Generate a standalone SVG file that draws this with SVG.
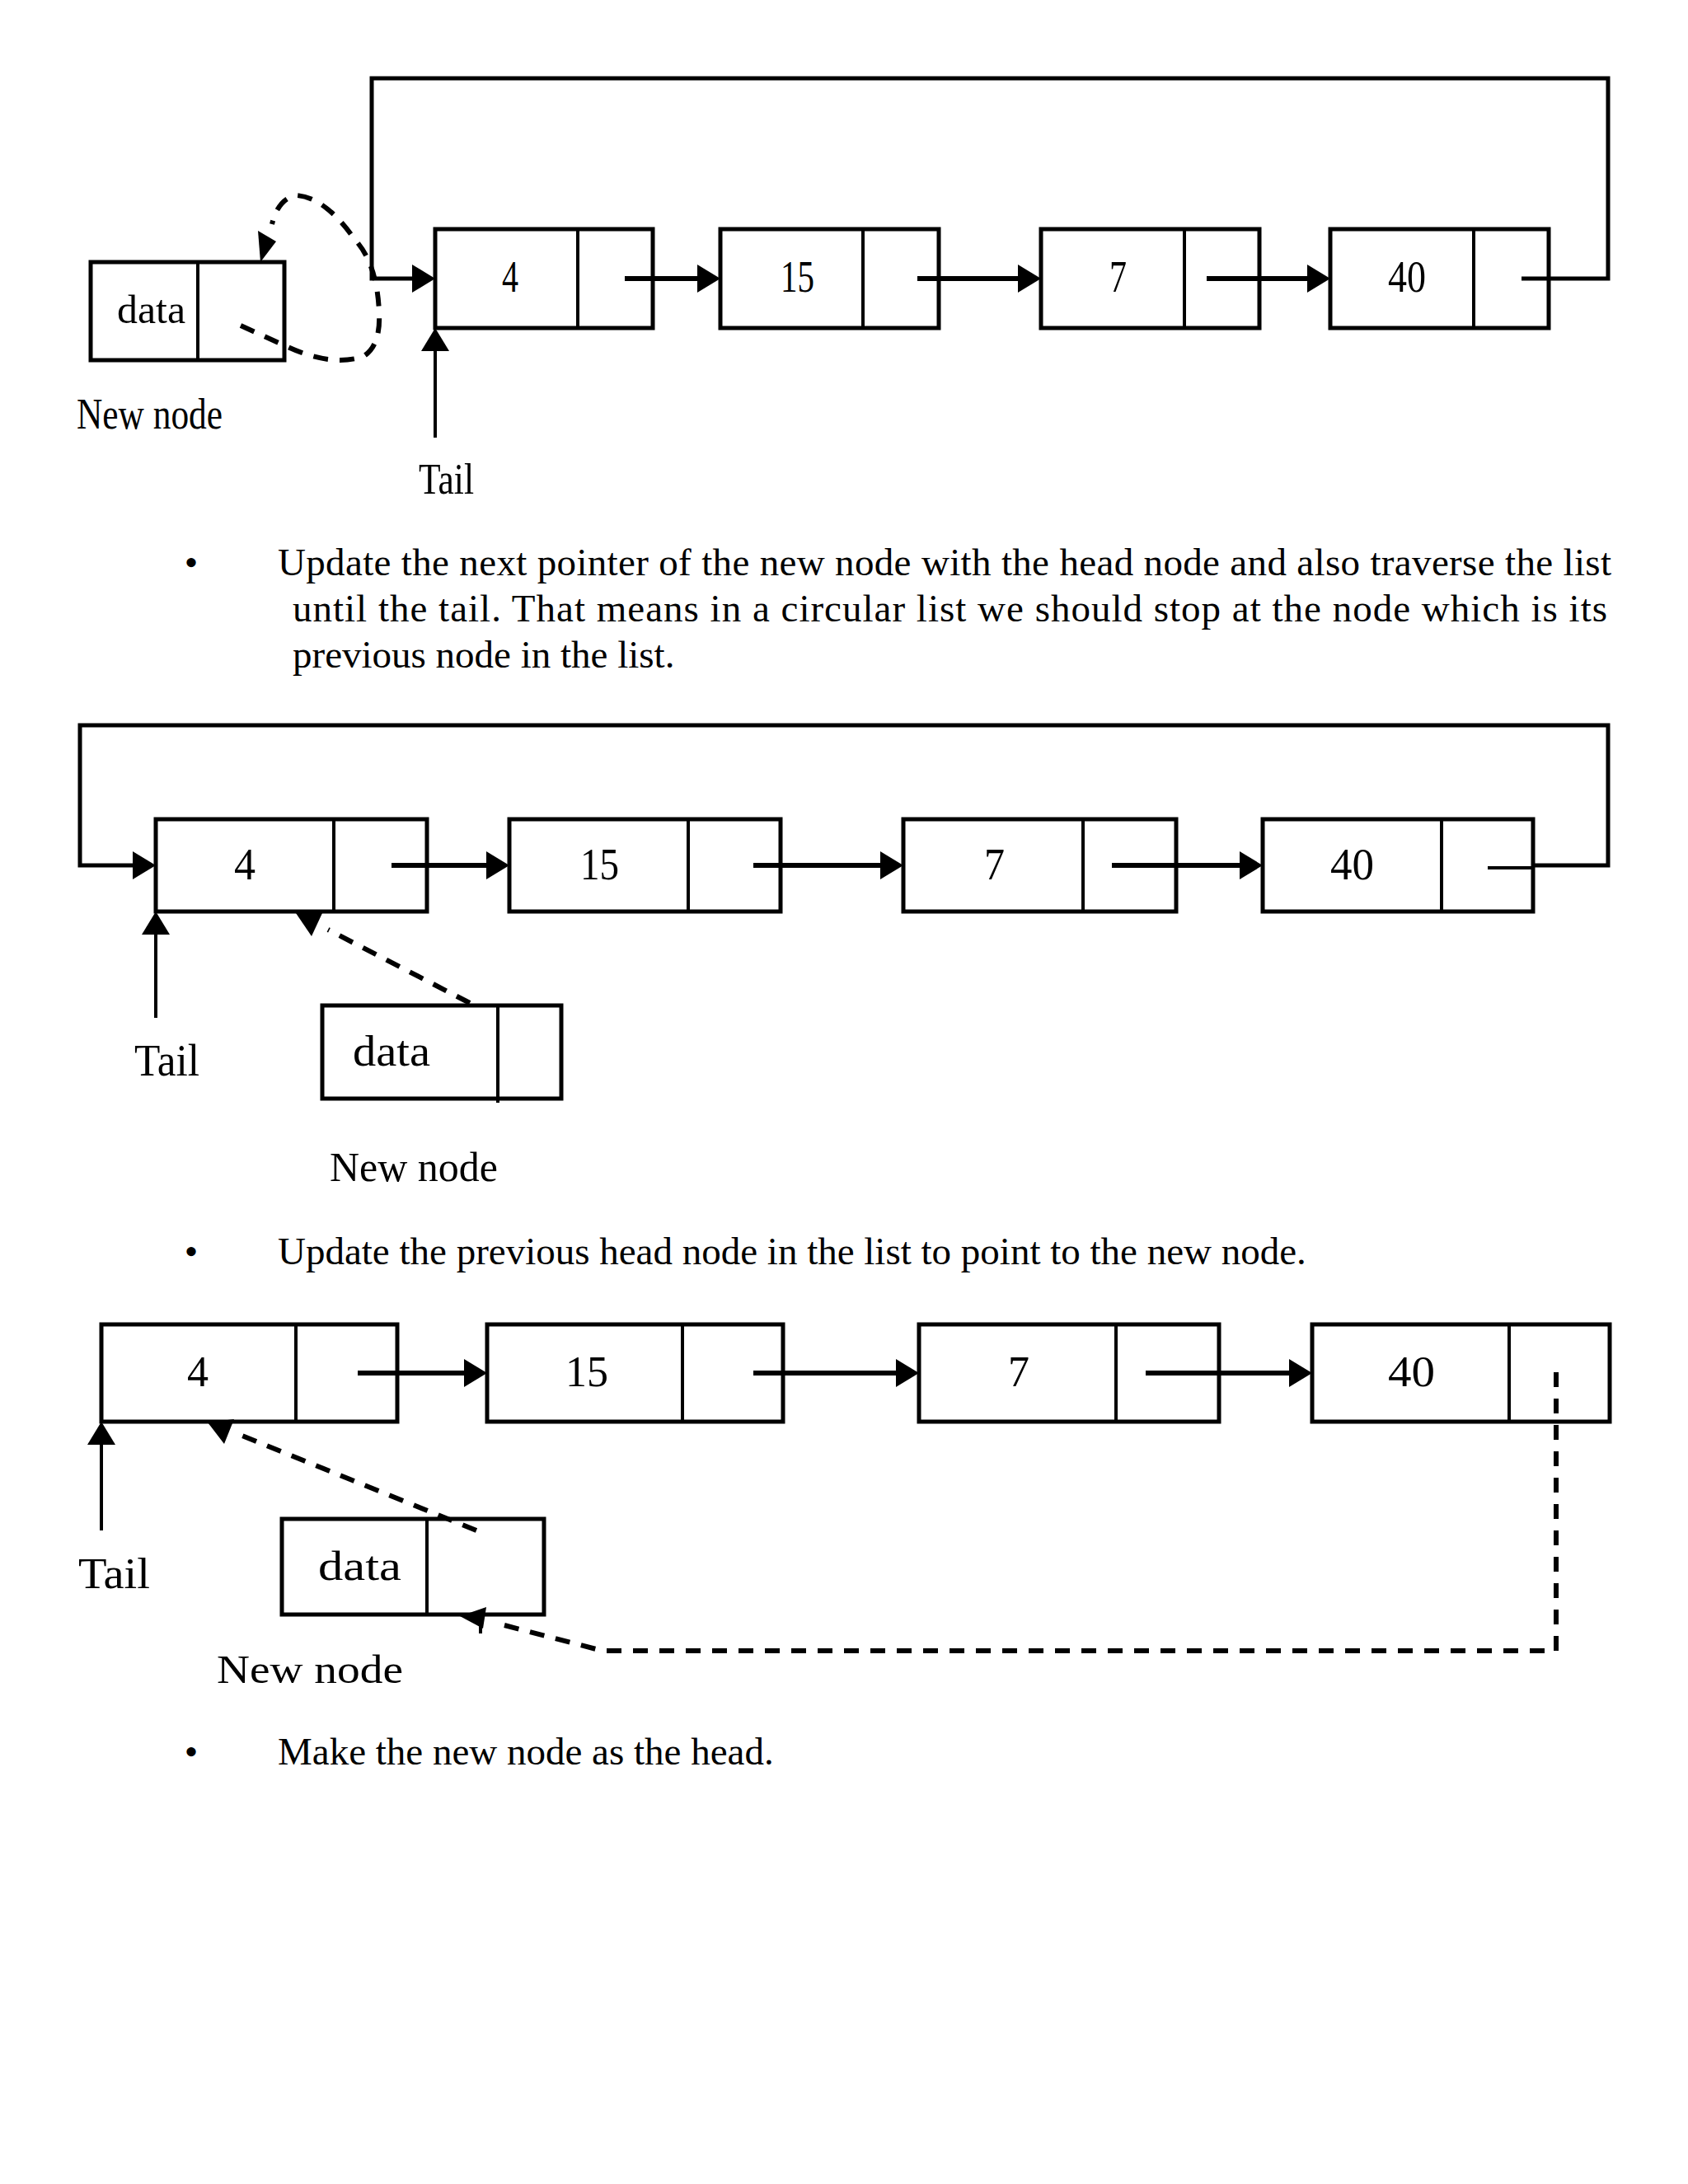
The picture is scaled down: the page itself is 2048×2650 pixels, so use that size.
<svg xmlns="http://www.w3.org/2000/svg" width="2048" height="2650" viewBox="0 0 2048 2650">
<style>
.box{fill:none;stroke:#000;stroke-width:5}
.dv{stroke:#000;stroke-width:4}
.lbl{font-family:"Liberation Serif","Times New Roman",serif;fill:#000}
.ptr{stroke:#000;stroke-width:6;fill:none}
.loop{stroke:#000;stroke-width:5;fill:none}
.dash{stroke:#000;stroke-width:6;fill:none;stroke-dasharray:18 14}
.thin{stroke:#000;stroke-width:4;fill:none}
.head{fill:#000;stroke:none}
.body{font-family:"Liberation Serif","Times New Roman",serif;font-size:47px;fill:#000}
</style>
<defs>
<marker id="ah" markerUnits="userSpaceOnUse" markerWidth="30" markerHeight="34" refX="0" refY="17" orient="auto" overflow="visible">
<path d="M0,0 L28,17 L0,34 z" fill="#000"/>
</marker>
</defs>
<rect width="2048" height="2650" fill="#fff"/>

<!-- Diagram 1 -->
<g id="d1-n4"><rect class="box" x="528" y="278" width="264" height="120"/><line class="dv" x1="701" y1="278" x2="701" y2="398"/><text class="lbl" x="609" y="354" font-size="55" textLength="20" lengthAdjust="spacingAndGlyphs">4</text></g>
<g id="d1-n15"><rect class="box" x="874" y="278" width="265" height="120"/><line class="dv" x1="1047" y1="278" x2="1047" y2="398"/><text class="lbl" x="947" y="354" font-size="55" textLength="41" lengthAdjust="spacingAndGlyphs">15</text></g>
<g id="d1-n7"><rect class="box" x="1263" y="278" width="265" height="120"/><line class="dv" x1="1437" y1="278" x2="1437" y2="398"/><text class="lbl" x="1346" y="354" font-size="55" textLength="21" lengthAdjust="spacingAndGlyphs">7</text></g>
<g id="d1-n40"><rect class="box" x="1614" y="278" width="265" height="120"/><line class="dv" x1="1788" y1="278" x2="1788" y2="398"/><text class="lbl" x="1684" y="354" font-size="55" textLength="46" lengthAdjust="spacingAndGlyphs">40</text></g>
<g id="d1-new"><rect class="box" x="110" y="318" width="235" height="119"/><line class="dv" x1="240" y1="318" x2="240" y2="437"/><text class="lbl" x="142" y="392" font-size="48" textLength="83" lengthAdjust="spacingAndGlyphs">data</text></g>
<g id="d1-labels"><text class="lbl" x="93" y="520" font-size="53" textLength="177" lengthAdjust="spacingAndGlyphs">New node</text><text class="lbl" x="508" y="599" font-size="53" textLength="67" lengthAdjust="spacingAndGlyphs">Tail</text></g>
<g id="d1-connectors">
<polyline class="loop" points="1846,338 1951,338 1951,95 451,95 451,338 500,338" marker-end="url(#ah)"/>
<line class="ptr" x1="758" y1="338" x2="846" y2="338" marker-end="url(#ah)"/>
<line class="ptr" x1="1113" y1="338" x2="1235" y2="338" marker-end="url(#ah)"/>
<line class="ptr" x1="1464" y1="338" x2="1586" y2="338" marker-end="url(#ah)"/>
<line class="thin" x1="528" y1="531" x2="528" y2="426" marker-end="url(#ah)"/>
<path class="dash" stroke-width="5" stroke-dasharray="15 13" d="M292,395 L347,420 Q400,445 440,433 Q462,420 460,380 Q458,320 430,290 Q395,240 360,237 Q338,240 330,272"/>
<polygon class="head" points="313,280 335,293 316,318"/>
</g>

<!-- Text block 1 -->
<g id="text1">
<text class="body" x="232" y="698" text-anchor="middle">•</text>
<text class="body" x="337" y="698" textLength="1618" lengthAdjust="spacing">Update the next pointer of the new node with the head node and also traverse the list</text>
<text class="body" x="355" y="754" textLength="1595" lengthAdjust="spacing">until the tail. That means in a circular list we should stop at the node which is its</text>
<text class="body" x="355" y="810">previous node in the list.</text>
</g>

<!-- Diagram 2 -->
<g id="d2-n4"><rect class="box" x="189" y="994" width="329" height="112"/><line class="dv" x1="405" y1="994" x2="405" y2="1106"/><text class="lbl" x="284" y="1067" font-size="55" textLength="26" lengthAdjust="spacingAndGlyphs">4</text></g>
<g id="d2-n15"><rect class="box" x="618" y="994" width="329" height="112"/><line class="dv" x1="835" y1="994" x2="835" y2="1106"/><text class="lbl" x="704" y="1067" font-size="55" textLength="47" lengthAdjust="spacingAndGlyphs">15</text></g>
<g id="d2-n7"><rect class="box" x="1096" y="994" width="331" height="112"/><line class="dv" x1="1314" y1="994" x2="1314" y2="1106"/><text class="lbl" x="1194" y="1067" font-size="55" textLength="25" lengthAdjust="spacingAndGlyphs">7</text></g>
<g id="d2-n40"><rect class="box" x="1532" y="994" width="328" height="112"/><line class="dv" x1="1749" y1="994" x2="1749" y2="1106"/><text class="lbl" x="1614" y="1067" font-size="55" textLength="53" lengthAdjust="spacingAndGlyphs">40</text></g>
<g id="d2-new"><rect class="box" x="391" y="1220" width="290" height="113"/><line class="dv" x1="604" y1="1220" x2="604" y2="1338"/><text class="lbl" x="428" y="1293" font-size="52" textLength="94" lengthAdjust="spacingAndGlyphs">data</text></g>
<g id="d2-labels"><text class="lbl" x="163" y="1305" font-size="54" textLength="79" lengthAdjust="spacingAndGlyphs">Tail</text><text class="lbl" x="400" y="1433" font-size="50" textLength="204" lengthAdjust="spacingAndGlyphs">New node</text></g>
<g id="d2-connectors">
<polyline class="loop" points="1858,1050 1951,1050 1951,880 97,880 97,1050 161,1050" marker-end="url(#ah)"/>
<line class="thin" x1="1805" y1="1053" x2="1862" y2="1053"/>
<line class="ptr" x1="475" y1="1050" x2="590" y2="1050" marker-end="url(#ah)"/>
<line class="ptr" x1="914" y1="1050" x2="1068" y2="1050" marker-end="url(#ah)"/>
<line class="ptr" x1="1349" y1="1050" x2="1504" y2="1050" marker-end="url(#ah)"/>
<line class="thin" x1="189" y1="1235" x2="189" y2="1134" marker-end="url(#ah)"/>
<line class="dash" x1="570" y1="1217" x2="398" y2="1128"/>
<polygon class="head" points="359,1108 391,1108 378,1136"/>
</g>

<!-- Text block 2 -->
<g id="text2">
<text class="body" x="232" y="1534" text-anchor="middle">•</text>
<text class="body" x="337" y="1534">Update the previous head node in the list to point to the new node.</text>
</g>

<!-- Diagram 3 -->
<g id="d3-n4"><rect class="box" x="123" y="1607" width="359" height="118"/><line class="dv" x1="359" y1="1607" x2="359" y2="1725"/><text class="lbl" x="227" y="1682" font-size="52" textLength="26" lengthAdjust="spacingAndGlyphs">4</text></g>
<g id="d3-n15"><rect class="box" x="591" y="1607" width="359" height="118"/><line class="dv" x1="828" y1="1607" x2="828" y2="1725"/><text class="lbl" x="686" y="1682" font-size="52" textLength="52" lengthAdjust="spacingAndGlyphs">15</text></g>
<g id="d3-n7"><rect class="box" x="1115" y="1607" width="364" height="118"/><line class="dv" x1="1354" y1="1607" x2="1354" y2="1725"/><text class="lbl" x="1223" y="1682" font-size="52" textLength="26" lengthAdjust="spacingAndGlyphs">7</text></g>
<g id="d3-n40"><rect class="box" x="1592" y="1607" width="361" height="118"/><line class="dv" x1="1831" y1="1607" x2="1831" y2="1725"/><text class="lbl" x="1684" y="1682" font-size="52" textLength="57" lengthAdjust="spacingAndGlyphs">40</text></g>
<g id="d3-new"><rect class="box" x="342" y="1843" width="318" height="116"/><line class="dv" x1="518" y1="1843" x2="518" y2="1959"/><text class="lbl" x="386" y="1917" font-size="51" textLength="101" lengthAdjust="spacingAndGlyphs">data</text></g>
<g id="d3-labels"><text class="lbl" x="95" y="1927" font-size="53" textLength="87" lengthAdjust="spacingAndGlyphs">Tail</text><text class="lbl" x="263" y="2042" font-size="49" textLength="226" lengthAdjust="spacingAndGlyphs">New node</text></g>
<g id="d3-connectors">
<line class="ptr" x1="434" y1="1666" x2="563" y2="1666" marker-end="url(#ah)"/>
<line class="ptr" x1="914" y1="1666" x2="1087" y2="1666" marker-end="url(#ah)"/>
<line class="ptr" x1="1390" y1="1666" x2="1564" y2="1666" marker-end="url(#ah)"/>
<line class="thin" x1="123" y1="1857" x2="123" y2="1753" marker-end="url(#ah)"/>
<line class="dash" x1="578" y1="1857" x2="289" y2="1740"/>
<polygon class="head" points="252,1726 284,1722 272,1752"/>
<polyline class="dash" stroke-width="5" stroke-dasharray="18 11" points="1888,1665 1888,2003 731,2003 612,1972"/>
<polygon class="head" points="558,1961 590,1950 586,1976"/>
<line class="thin" x1="583" y1="1964" x2="583" y2="1982"/>
</g>

<!-- Text block 3 -->
<g id="text3">
<text class="body" x="232" y="2141" text-anchor="middle">•</text>
<text class="body" x="337" y="2141">Make the new node as the head.</text>
</g>
</svg>
